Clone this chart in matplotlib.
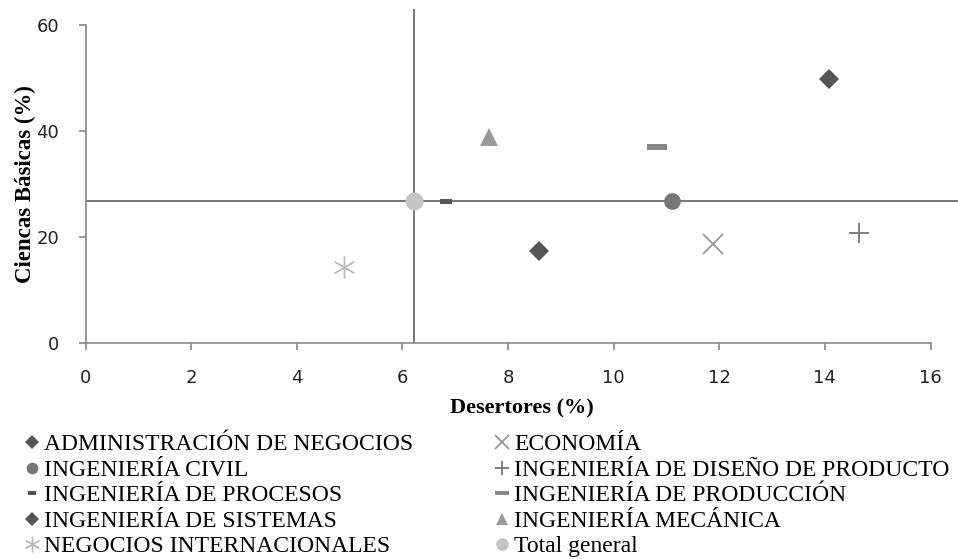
import matplotlib.pyplot as plt
from matplotlib.path import Path

plt.rcParams['font.family'] = ['Liberation Serif', 'DejaVu Serif']

# values: (desertores %, ciencias basicas %)
programas = [
    "ADMINISTRACIÓN DE NEGOCIOS",
    "INGENIERÍA CIVIL",
    "INGENIERÍA DE PROCESOS",
    "INGENIERÍA DE SISTEMAS",
    "NEGOCIOS INTERNACIONALES",
    "ECONOMÍA",
    "INGENIERÍA DE DISEÑO DE PRODUCTO",
    "INGENIERÍA DE PRODUCCIÓN",
    "INGENIERÍA MECÁNICA",
    "Total general",
]
desertores = [8.59, 11.10, 6.82, 14.07, 4.90, 11.88, 14.65, 10.82, 7.63, 6.21]
ciencias = [17.4, 26.85, 26.85, 49.8, 14.4, 18.6, 20.7, 36.9, 38.9, 26.85]

xticks = [0, 2, 4, 6, 8, 10, 12, 14, 16]
yticks = [0, 20, 40, 60]

dash_big = Path([(-1, -0.28), (1, -0.28), (1, 0.28), (-1, 0.28), (-1, -0.28)])
dash_small = Path([(-1, -0.4), (1, -0.4), (1, 0.4), (-1, 0.4), (-1, -0.4)])

# marker, size, colour, edge width
estilos = [
    ('D', 10, '#555555', 0),
    ('o', 12, '#777777', 0),
    (dash_small, 9, '#555555', 0),
    ('D', 10, '#555555', 0),
    ((6, 2, 0), 16, '#bbbbbb', 1.0),
    ('x', 14, '#999999', 1.3),
    ('+', 14, '#777777', 1.3),
    (dash_big, 15, '#888888', 0),
    ('^', 13, '#999999', 0),
    ('o', 13, '#c4c4c4', 0),
]

fig = plt.figure(figsize=(9.58, 5.59), dpi=100)
ax = fig.add_axes([0.0893, 0.3864, 0.9107, 0.5976])

# reference lines through the total
ax.axvline(desertores[-1], color='#777777', lw=1.4, zorder=1)
ax.axhline(ciencias[-1], color='#777777', lw=1.4, zorder=1)

for nombre, x, y, (m, ms, c, mew) in zip(programas, desertores, ciencias, estilos):
    ax.plot([x], [y], linestyle='none', marker=m, markersize=ms, color=c,
            markeredgewidth=mew, label=nombre, zorder=3)

ax.set_xlim(0, 16.52)
ax.set_ylim(0, 63)
ax.set_xticks(xticks)
ax.set_yticks(yticks)
ax.spines['top'].set_visible(False)
ax.spines['right'].set_visible(False)
ax.spines['left'].set_bounds(0, 60)
ax.spines['bottom'].set_bounds(0, 16)
for s in ('left', 'bottom'):
    ax.spines[s].set_color('#888888')
    ax.spines[s].set_linewidth(1.2)
ax.tick_params(direction='out', length=5, width=1.2, color='#888888',
               labelsize=13, labelcolor='#222222')
ax.tick_params(axis='x', pad=14)
ax.tick_params(axis='y', pad=14)
for lab in ax.get_xticklabels() + ax.get_yticklabels():
    lab.set_family('DejaVu Sans')

ax.set_xlabel("Desertores (%)", fontsize=16, fontweight='bold')
ax.xaxis.set_label_coords(0.5, -0.165)
ax.set_ylabel("Ciencas Básicas (%)", fontsize=16.5, fontweight='bold')
ax.yaxis.set_label_coords(-0.057, 0.475)

fig.legend(loc='upper left', bbox_to_anchor=(0.0285, 0.224), ncol=2,
           frameon=False, fontsize=17, handlelength=0.4, handletextpad=0.3,
           labelspacing=0.17, columnspacing=3.58, markerscale=0.7,
           borderaxespad=0, borderpad=0)

fig.savefig('out.png', dpi=100)
